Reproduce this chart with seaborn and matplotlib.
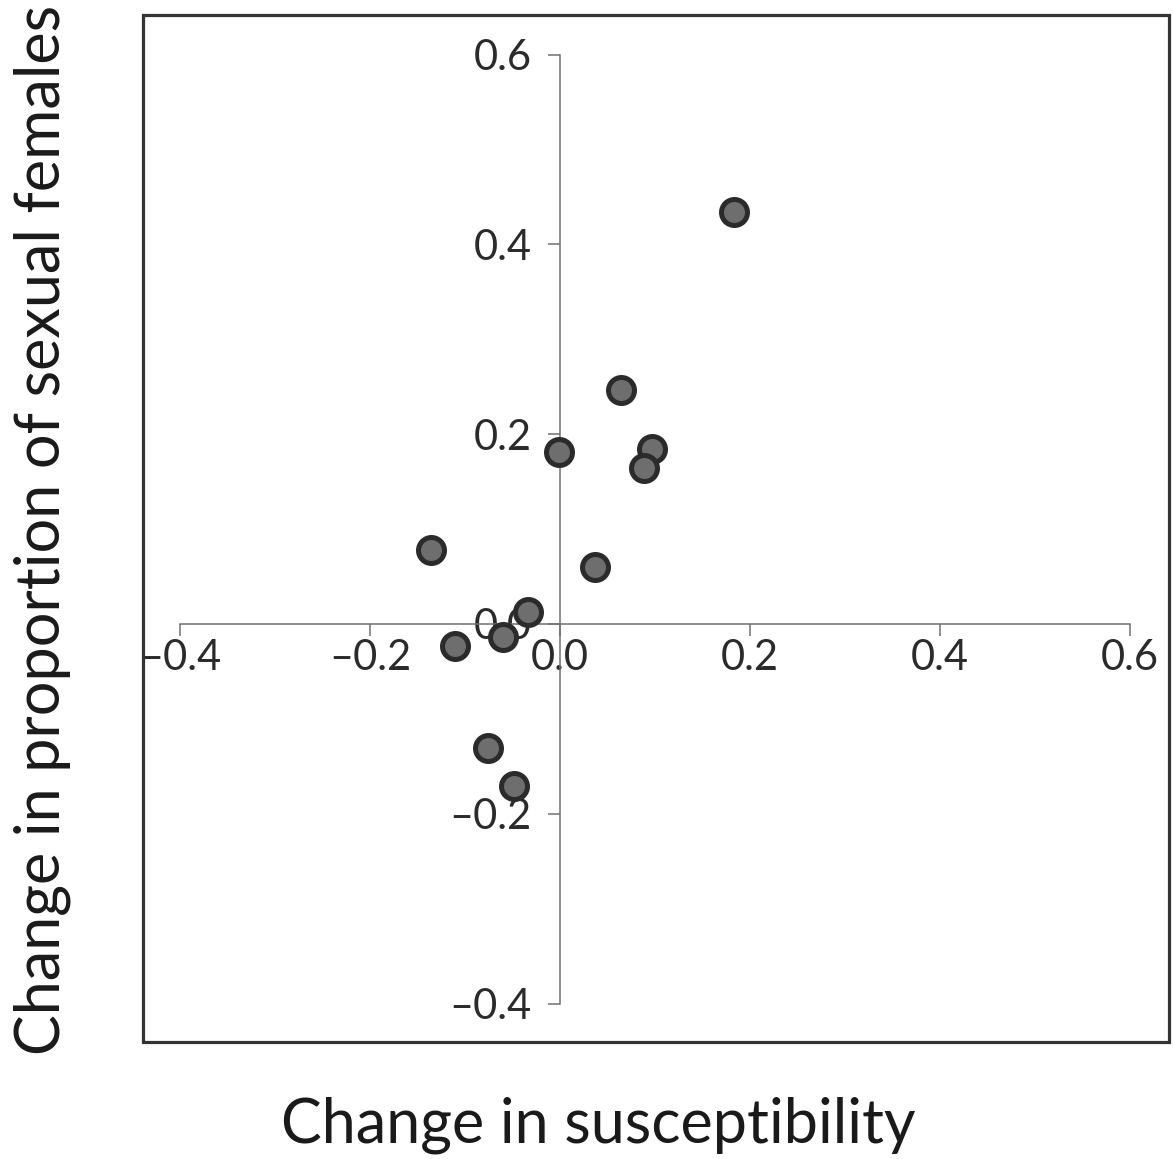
import matplotlib
matplotlib.use("Agg")
import matplotlib.pyplot as plt
import seaborn as sns
import pandas as pd
from matplotlib.patches import Rectangle

# Data
susceptibility = [0.183, 0.064, 0.097, 0.088, -0.001, 0.037, -0.136, -0.034, -0.060, -0.111, -0.076, -0.049]
sexual_change = [0.434, 0.247, 0.184, 0.164, 0.181, 0.060, 0.078, 0.013, -0.014, -0.023, -0.131, -0.171]
tick_values = [-0.4, -0.2, 0.0, 0.2, 0.4, 0.6]
tick_labels = ["\u20130.4", "\u20130.2", "0.0", "0.2", "0.4", "0.6"]
x_title = "Change in susceptibility"
y_title = "Change in proportion of sexual females"

sns.set_theme(style="ticks")
plt.rcParams['font.family'] = ['Lato', 'DejaVu Sans']

W, H = 1173, 1159
fig = plt.figure(figsize=(W / 100, H / 100), dpi=100)
ax = fig.add_axes([143 / W, (H - 1042) / H, (1169 - 143) / W, (1042 - 15) / H])

df = pd.DataFrame({"susceptibility": susceptibility, "sexual": sexual_change})
sns.scatterplot(data=df, x="susceptibility", y="sexual", ax=ax, s=350,
                color="#6e6e6e", edgecolor="#2b2b2b", linewidth=3.6,
                zorder=5, clip_on=False, legend=False)

ax.set_xlim(-0.439, 0.641)
ax.set_ylim(-0.4405, 0.6417)

for side in ["left", "bottom"]:
    ax.spines[side].set_position(("data", 0))
    ax.spines[side].set_color("#707070")
    ax.spines[side].set_linewidth(1.1)
    ax.spines[side].set_bounds(-0.4, 0.6)
for side in ["top", "right"]:
    ax.spines[side].set_visible(False)

ax.add_patch(Rectangle((0, 0), 1, 1, transform=ax.transAxes, fill=False,
                       lw=2.3, ec="#333333", clip_on=False, zorder=10))

ax.set_xticks(tick_values)
ax.set_xticklabels(tick_labels)
ax.set_yticks(tick_values)
ax.set_yticklabels(tick_labels)
ax.tick_params(axis="both", direction="out", length=8.6, width=1.1,
               color="#707070", labelsize=30, labelcolor="#2b2b2b")
ax.tick_params(axis="x", pad=2)
ax.tick_params(axis="y", pad=12)
ax.set_xlabel("")
ax.set_ylabel("")

fig.text(598 / W, 1 - 1125 / H, x_title, ha="center", va="center",
         fontsize=44, color="#1a1a1a")
fig.text(42 / W, 1 - 530 / H, y_title, ha="center", va="center",
         rotation=90, fontsize=44, color="#1a1a1a")

fig.savefig("out.png", dpi=100)
